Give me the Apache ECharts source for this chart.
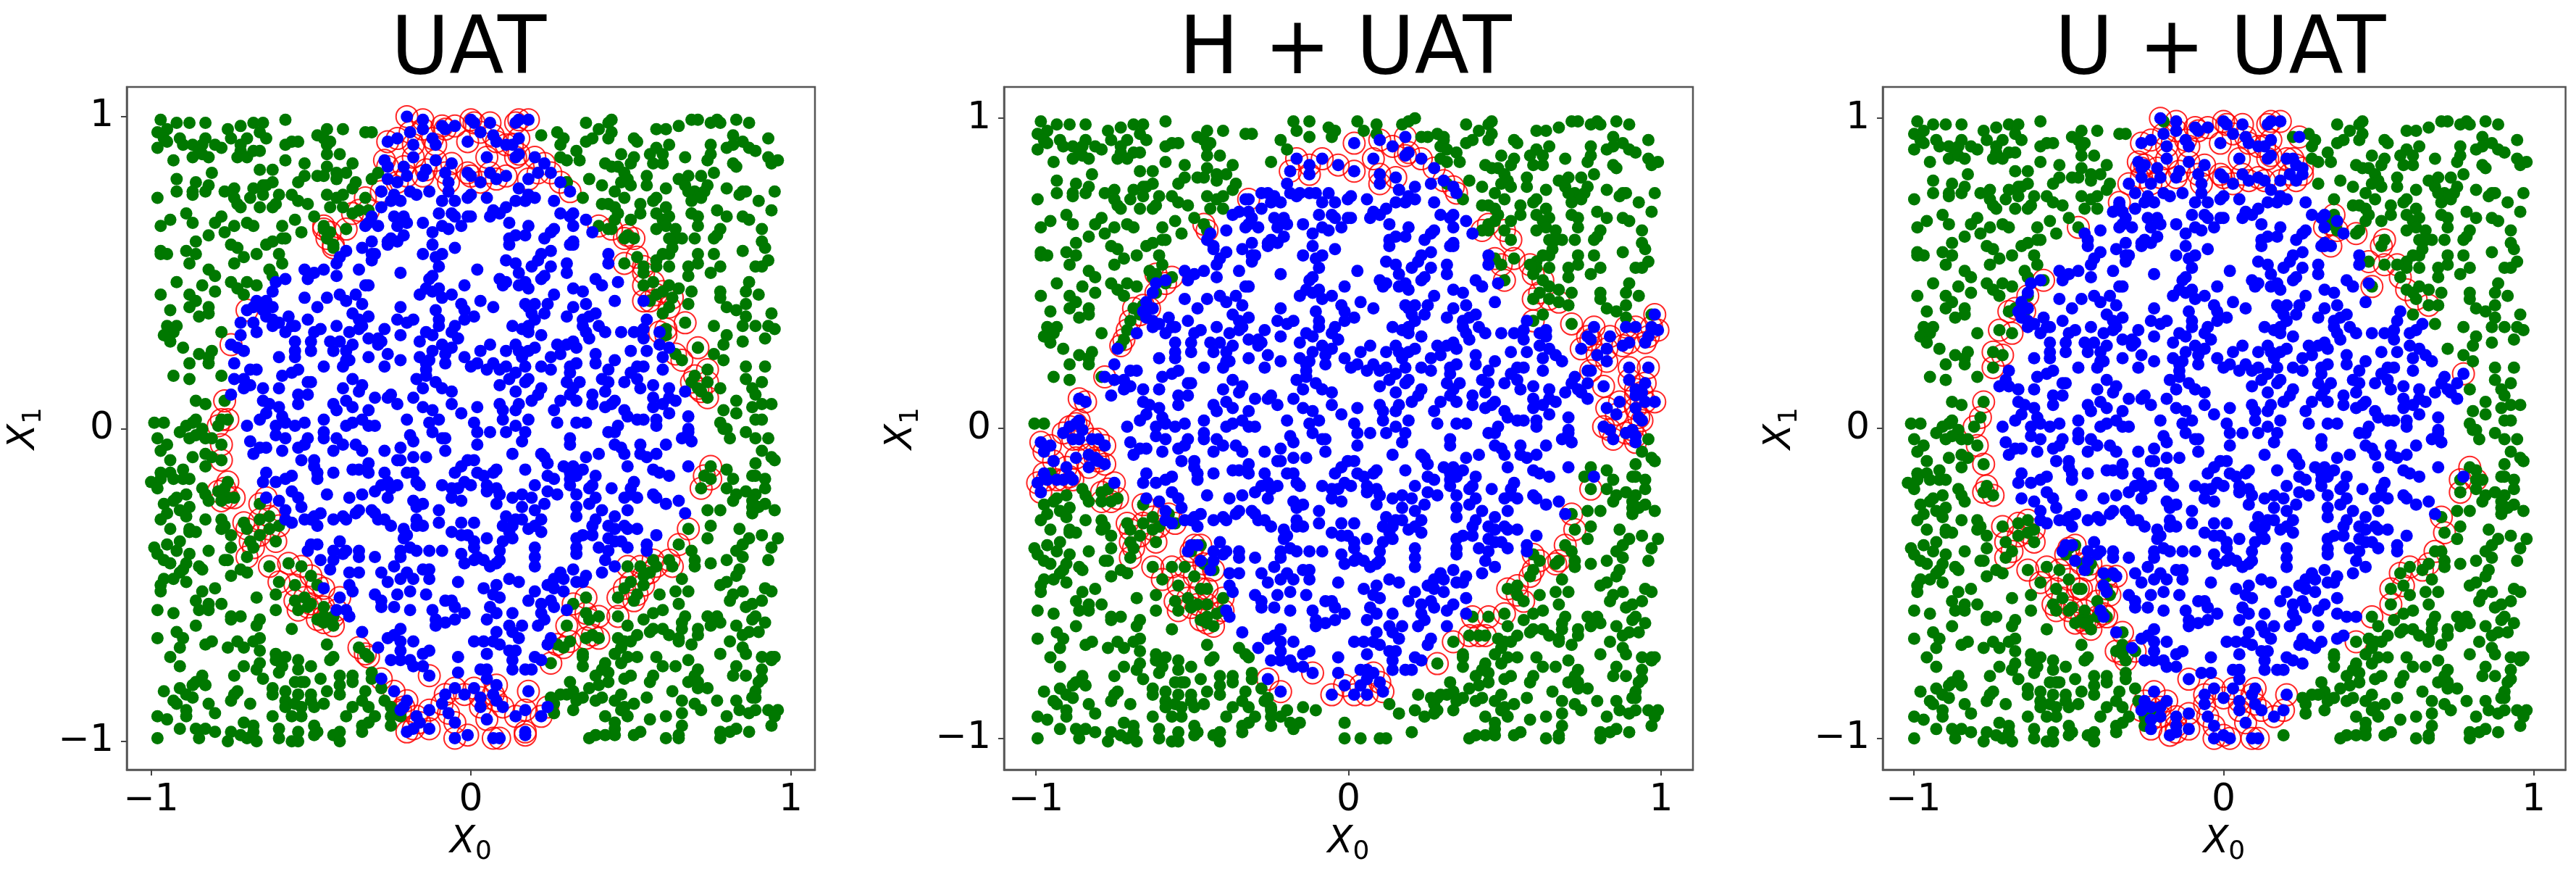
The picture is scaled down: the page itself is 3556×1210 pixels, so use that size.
<!DOCTYPE html>
<html>
<head>
<meta charset="utf-8">
<script src="https://cdn.jsdelivr.net/npm/echarts@6/dist/echarts.min.js"></script>
<style>
html, body {margin: 0; padding: 0; background: #fff;}
#main {width: 3556px; height: 1210px;}
</style>
</head>
<body>
<div id="main"></div>
<script>
let titles = ['UAT', 'H + UAT', 'U + UAT'];
let tickValues = [-1, 0, 1];

// points that keep their colour in all three panels
let greenAll = [
[-.97,.99],[-.92,.98],[-.88,.98],[-.83,.98],[-.95,.96],[-.98,.95],[-.96,.93],[-.95,.92],[-.98,.90],[-.91,.93],[-.90,.91],[-.87,.91],[-.83,.93],[-.84,.91],[-.85,.89],[-.87,.87],[-.84,.88],[-.82,.87],[-.93,.86],
[-.76,.96],[-.72,.97],[-.68,.98],[-.70,.93],[-.65,.98],[-.66,.95],[-.64,.93],[-.58,.99],[-.80,.91],[-.78,.90],[-.75,.93],[-.72,.91],[-.72,.89],[-.73,.87],[-.70,.87],[-.68,.89],[-.66,.89],
[-.58,.91],[-.56,.92],[-.54,.92],[-.48,.94],[-.46,.93],[-.44,.92],[-.45,.96],[-.40,.96],[-.33,.95],[-.31,.95],[-.45,.91],[-.45,.88],[-.41,.88],[-.58,.86],[-.52,.85],[-.66,.83],[-.62,.83],
[-.45,.84],[-.37,.85],[-.39,.82],[-.42,.82],[-.42,.80],[-.48,.81],[-.46,.81],[-.52,.81],[-.54,.79],[-.81,.82],[-.92,.80],[-.86,.79],[-.82,.78],[-.83,.76],[-.87,.76],[-.87,.75],[-.92,.76],[-.98,.74],
[-.77,.76],[-.74,.77],[-.74,.74],[-.73,.72],[-.72,.71],[-.69,.74],[-.68,.77],[-.65,.78],[-.65,.75],[-.62,.79],[-.64,.78],[-.60,.75],[-.56,.75],[-.54,.73],[-.51,.72],[-.66,.71],[-.62,.71],[-.61,.72],
[-.45,.75],[-.42,.74],[-.40,.75],[-.37,.77],[-.36,.79],[-.44,.71],[-.40,.71],[-.89,.69],[-.87,.66],[-.94,.67],[-.97,.65],[-.78,.68],[-.80,.66],[-.82,.62],[-.77,.63],[-.74,.65],[-.70,.66],[-.68,.65],[-.59,.65],[-.55,.67],[-.53,.63],[-.49,.68],
[-.86,.60],[-.97,.57],[-.97,.56],[-.95,.56],[-.89,.57],[-.86,.56],[-.88,.53],[-.75,.59],[-.73,.58],[-.71,.55],[-.74,.53],[-.67,.56],[-.64,.59],[-.62,.60],[-.59,.61],[-.58,.61],[-.60,.56],[-.59,.53],
[-.82,.51],[-.80,.49],[-.63,.51],[-.62,.49],[-.92,.47],[-.84,.46],[-.75,.47],[-.73,.45],[-.70,.47],[-.67,.46],[-.71,.43],[-.97,.43],[-.88,.43],[-.80,.44],[-.86,.41],[-.88,.39],[-.82,.39],[-.82,.37],[-.85,.36],[-.94,.38],
[-.92,.33],[-.95,.33],[-.93,.31],[-.96,.30],[-.94,.28],[-.78,.31],[-.90,.26],[-.85,.24],[-.81,.25],[-.82,.23],[-.82,.21],[-.88,.21],[-.93,.17],[-.88,.16],[-.78,.17],[-.99,.02],[-.96,.02],
[.22,.94],[.36,.98],[.44,.99],[.43,.98],[.44,.95],[.40,.96],[.38,.93],[.36,.92],[.43,.93],[.27,.95],[.29,.93],[.28,.91],[.28,.87],[.30,.86],[.33,.89],[.34,.86],
[.51,.93],[.52,.92],[.58,.96],[.61,.96],[.65,.97],[.69,.99],[.71,.99],[.75,.98],[.77,.99],[.78,.98],[.83,.99],[.87,.98],[.62,.91],[.58,.90],[.56,.88],[.57,.85],[.60,.85],[.60,.88],[.67,.87],[.47,.88],[.51,.87],[.50,.85],[.75,.91],[.75,.88],[.74,.86],[.80,.90],[.82,.94],[.82,.91],[.85,.92],[.87,.90],[.89,.89],[.93,.93],[.93,.87],[.94,.85],[.96,.86],[.82,.85],[.83,.84],
[.42,.85],[.44,.84],[.46,.84],[.48,.82],[.47,.79],[.49,.80],[.50,.78],[.55,.81],[.55,.78],[.37,.80],[.41,.78],[.45,.76],[.48,.74],[.35,.74],[.30,.79],
[.65,.80],[.67,.78],[.68,.81],[.72,.81],[.74,.78],[.76,.82],[.70,.76],[.68,.76],[.73,.76],[.69,.73],[.72,.74],[.61,.77],[.58,.74],[.57,.73],[.80,.77],[.85,.76],[.84,.75],[.86,.76],[.95,.76],[.90,.73],[.94,.70],
[.41,.72],[.43,.72],[.45,.71],[.46,.69],[.53,.72],[.53,.69],[.58,.69],[.61,.71],[.62,.68],[.50,.67],[.45,.67],[.43,.64],[.60,.67],[.61,.65],[.58,.64],[.69,.69],[.71,.68],[.71,.65],[.77,.70],[.80,.68],[.85,.68],[.87,.67],[.64,.64],[.66,.61],[.64,.61],[.62,.61],[.70,.61],[.78,.64],[.77,.62],[.76,.61],[.91,.64],[.91,.60],[.92,.58],
[.63,.58],[.62,.56],[.60,.56],[.58,.54],[.58,.52],[.62,.52],[.71,.56],[.76,.56],[.85,.57],[.93,.54],[.68,.52],[.71,.53],[.68,.49],[.75,.50],[.78,.52],[.89,.52],[.91,.52],
[.62,.46],[.65,.45],[.69,.44],[.87,.47],[.78,.44],[.78,.42],[.86,.44],[.90,.43],[.86,.40],[.68,.40],[.60,.37],[.80,.39],[.83,.38],[.86,.36],[.94,.37],
[-.83,-.21],[-.82,-.23],[-.84,-.19],[-.94,-.14],[-.89,-.21],[-.92,-.22],[-.93,-.23],[-.96,-.24],[-.88,-.25],
[-.91,-.26],[-.89,-.28],[-.95,-.27],[-.97,-.29],[-.94,-.32],[-.83,-.29],[-.78,-.29],[-.77,-.31],[-.78,-.32],[-.88,-.32],[-.88,-.33],[-.86,-.33],[-.75,-.34],[-.91,-.36],[-.95,-.37],[-.92,-.39],[-.99,-.38],[-.98,-.40],[-.82,-.39],[-.75,-.38],[-.88,-.40],[-.96,-.42],[-.94,-.43],[-.89,-.43],[-.90,-.45],[-.91,-.46],[-.77,-.42],[-.76,-.42],[-.85,-.44],[-.84,-.45],[-.72,-.45],[-.70,-.46],[-.75,-.47],[-.96,-.48],[-.93,-.48],[-.89,-.49],[-.97,-.50],[-.97,-.52],
[-.84,-.52],[-.80,-.51],[-.86,-.55],[-.82,-.56],[-.78,-.56],[-.85,-.58],[-.82,-.58],[-.98,-.58],[-.93,-.59],[-.75,-.60],[-.72,-.60],[-.75,-.61],[-.67,-.54],[-.61,-.53],[-.61,-.58],
[-.86,-.63],[-.66,-.61],[-.67,-.63],[-.56,-.64],[-.92,-.65],[-.90,-.67],[-.98,-.67],[-.81,-.68],[-.83,-.69],[-.73,-.68],[-.71,-.70],[-.76,-.70],[-.66,-.67],[-.68,-.68],[-.66,-.71],[-.91,-.70],[-.45,-.69],[-.94,-.73],[-.91,-.76],[-.61,-.72],[-.61,-.74],[-.58,-.73],[-.43,-.73],[-.44,-.74],[-.54,-.74],[-.54,-.77],[-.50,-.76],[-.71,-.76],[-.66,-.75],[-.67,-.77],[-.59,-.76],[-.60,-.78],[-.84,-.79],[-.74,-.79],[-.47,-.80],[-.65,-.80],[-.53,-.81],[-.52,-.81],[-.55,-.81],[-.41,-.79],[-.37,-.79],[-.37,-.81],[-.41,-.82],[-.86,-.81],[-.87,-.82],[-.83,-.82],[-.31,-.78],[-.31,-.80],
[-.96,-.84],[-.91,-.83],[-.89,-.85],[-.87,-.86],[-.62,-.83],[-.62,-.85],[-.73,-.84],[-.74,-.85],[-.75,-.87],[-.41,-.85],[-.45,-.84],[-.50,-.85],[-.58,-.84],[-.54,-.85],[-.33,-.84],[-.28,-.83],
[-.93,-.87],[-.92,-.88],[-.82,-.88],[-.69,-.88],[-.58,-.87],[-.58,-.89],[-.55,-.88],[-.53,-.89],[-.50,-.87],[-.49,-.89],[-.46,-.88],[-.32,-.89],[-.34,-.87],[-.27,-.87],[-.25,-.89],[-.37,-.89],
[-.89,-.90],[-.89,-.92],[-.80,-.91],[-.98,-.92],[-.95,-.93],[-.62,-.92],[-.56,-.92],[-.53,-.92],[-.39,-.92],[-.30,-.92],[-.25,-.92],[-.22,-.92],
[-.91,-.96],[-.71,-.94],[-.68,-.95],[-.49,-.95],[-.32,-.94],[-.34,-.95],[-.25,-.95],[-.60,-.96],[-.86,-.96],[-.83,-.96],[-.80,-.97],[-.75,-.97],[-.72,-.98],[-.70,-.99],[-.68,-.97],[-.48,-.97],[-.54,-.97],[-.41,-.97],[-.34,-.97],[-.98,-.99],[-.85,-.99],[-.60,-.99],[-.49,-.98],[-.43,-.98],[-.76,-1],[-.67,-1],[-.56,-1],[-.54,-1],[-.41,-1],
[.86,-.01],[.93,-.03],[.91,-.07],[.94,-.09],[.95,-.10],[.89,-.11],[.80,-.13],[.82,-.16],[.80,-.19],[.88,-.15],[.89,-.15],[.92,-.16],[.92,-.19],[.83,-.21],[.82,-.23],[.86,-.20],[.89,-.21],[.88,-.23],[.92,-.24],[.88,-.25],[.90,-.25],[.88,-.27],[.95,-.26],[.74,-.26],[.78,-.26],
[.75,-.31],[.74,-.35],[.84,-.32],[.87,-.35],[.91,-.34],[.96,-.35],[.85,-.37],[.94,-.38],[.83,-.39],[.85,-.41],[.69,-.39],[.70,-.42],[.70,-.44],[.75,-.43],[.80,-.42],[.93,-.42],[.84,-.45],[.83,-.47],
[.66,-.48],[.78,-.50],[.80,-.49],[.64,-.52],[.68,-.52],[.59,-.53],[.85,-.52],[.82,-.53],[.81,-.55],[.92,-.51],[.94,-.52],[.91,-.55],[.88,-.56],[.86,-.57],[.65,-.56],[.60,-.58],[.57,-.59],[.54,-.61],[.67,-.60],[.74,-.60],[.77,-.60],[.89,-.60],[.88,-.61],[.49,-.63],[.78,-.62],[.75,-.63],[.92,-.62],[.66,-.62],[.66,-.64],[.60,-.64],[.57,-.64],[.56,-.65],[.71,-.64],[.71,-.66],[.62,-.66],[.65,-.67],[.65,-.68],[.83,-.63],[.85,-.66],[.90,-.65],[.87,-.65],[.81,-.68],[.52,-.66],[.50,-.68],[.46,-.67],[.48,-.68],[.69,-.69],
[.47,-.70],[.85,-.70],[.45,-.72],[.86,-.72],[.78,-.72],[.58,-.73],[.49,-.73],[.52,-.73],[.91,-.73],[.94,-.73],[.95,-.73],[.94,-.74],[.35,-.72],[.35,-.73],[.68,-.74],[.47,-.75],[.60,-.76],[.64,-.76],[.35,-.76],[.42,-.75],[.83,-.76],[.41,-.77],[.43,-.78],[.71,-.77],[.91,-.77],[.82,-.79],[.86,-.79],[.39,-.79],[.50,-.79],[.48,-.80],[.57,-.79],[.70,-.79],[.91,-.80],[.43,-.81],[.40,-.82],[.31,-.81],[.56,-.81],[.68,-.81],[.71,-.81],[.90,-.81],[.71,-.83],[.74,-.83],[.63,-.84],[.37,-.83],[.32,-.84],[.89,-.84],[.30,-.85],[.28,-.85],[.25,-.86],[.35,-.86],[.41,-.86],[.89,-.86],[.88,-.86],[.55,-.86],[.47,-.85],[.39,-.87],[.33,-.87],[.66,-.87],[.70,-.88],[.77,-.87],[.83,-.87],[.45,-.87],[.51,-.88],[.26,-.88],[.48,-.89],[.32,-.90],[.47,-.90],[.84,-.90],[.72,-.90],[.66,-.91],[.89,-.90],[.87,-.91],[.93,-.90],[.96,-.90],[.26,-.91],[.42,-.92],[.49,-.92],[.56,-.93],[.61,-.92],[.80,-.92],[.95,-.92],[.94,-.95],[.45,-.94],[.45,-.96],[.66,-.95],[.83,-.96],[.87,-.97],[.45,-.98],[.42,-.98],[.39,-.98],[.53,-.97],[.51,-.98],[.65,-.98],[.78,-.97],[.81,-.97],[.37,-.99],[.61,-.99],[.65,-.99],[.78,-.99]
];

let blueAll = [
[-.28,.76],[-.24,.75],[-.19,.76],[-.17,.75],[-.13,.76],[-.07,.76],[-.01,.74],[-.28,.71],[-.25,.73],[-.22,.73],[-.09,.73],[-.05,.73],[-.31,.68],[-.32,.66],[-.33,.65],[-.29,.65],[-.24,.68],[-.21,.68],[-.20,.66],[-.23,.65],[-.15,.66],[-.10,.69],[-.06,.69],[-.05,.68],[-.09,.65],[-.07,.64],[-.03,.65],[-.01,.68],[-.12,.63],
[-.31,.60],[-.25,.61],[-.21,.62],[-.26,.60],[-.23,.60],[-.26,.59],[-.34,.58],[-.30,.56],[-.31,.56],[-.31,.54],[-.39,.57],[-.41,.55],[-.42,.53],[-.12,.59],[-.05,.58],[-.15,.56],[-.09,.56],[-.11,.55],[-.10,.52],[-.12,.49],[-.13,.48],
[-.52,.51],[-.49,.50],[-.51,.48],[-.46,.51],[-.42,.49],[-.35,.51],[-.22,.50],[-.58,.48],[-.61,.47],[-.62,.44],[-.33,.46],[-.32,.46],[-.02,.46],[-.14,.45],[-.16,.43],[-.12,.44],[-.10,.45],[-.06,.43],[-.09,.42],
[-.52,.42],[-.45,.42],[-.41,.43],[-.39,.41],[-.36,.43],[-.34,.40],[-.48,.39],[-.37,.37],[-.22,.39],[-.11,.38],[-.03,.40],[-.02,.38],[-.64,.41],[-.62,.39],[-.65,.38],[-.64,.36],[-.62,.35],[-.60,.34],[-.57,.36],[-.56,.33],[-.55,.33],[-.62,.33],[-.58,.31],[-.51,.35],[-.47,.32],[-.49,.31],[-.42,.33],[-.38,.31],[-.35,.35],[-.32,.36],[-.34,.33],[-.35,.32],
[-.23,.35],[-.20,.34],[-.18,.35],[-.10,.35],[-.10,.33],[-.27,.32],[-.22,.30],[-.02,.35],[-.05,.33],[-.06,.31],[-.14,.31],[-.12,.30],[-.16,.28],[-.04,.29],[-.32,.29],[-.29,.29],[-.28,.28],[-.29,.27],
[-.55,.28],[-.50,.28],[-.50,.25],[-.44,.28],[-.43,.25],[-.41,.28],[-.37,.27],[-.39,.25],[-.55,.25],[-.55,.23],[-.60,.23],[-.32,.23],[-.26,.24],[-.22,.22],[-.27,.20],[-.16,.23],[-.12,.25],[-.13,.22],[-.09,.27],[-.06,.26],[-.08,.24],[-.08,.21],[-.02,.23],[-.46,.20],[-.39,.22],[-.38,.22],[-.40,.20],[-.14,.21],[-.14,.19],
[-.54,.19],[-.56,.18],[-.59,.17],[-.65,.13],[-.60,.13],[-.51,.15],[-.50,.15],[-.37,.16],[-.34,.14],[-.35,.12],[-.40,.13],[-.17,.16],[-.14,.17],[-.11,.15],[-.15,.13],[-.09,.13],[-.06,.12],
[-.54,.11],[-.51,.11],[-.30,.10],[-.25,.11],[-.26,.10],[-.23,.08],[-.18,.10],[-.06,.08],[-.65,.09],[-.63,.08],[-.54,.08],[-.60,.07],[-.39,.09],[-.43,.08],[-.42,.06],[-.37,.07],[-.15,.07],[-.12,.06],
[-.03,.05],[-.64,.05],[-.59,.04],[-.66,.03],[-.46,.03],[-.52,.02],[-.32,.06],[-.34,.03],[-.20,.03],[-.10,.03],[-.13,.02],[-.61,.01],[-.58,.02],[-.55,.01],[-.39,.01],[-.37,.02],[-.30,.01],[-.32,.01],
[.26,.73],[.20,.74],[.15,.77],[.18,.75],[.17,.73],[.14,.73],[.11,.71],[.05,.74],[0,.75],[.07,.70],[.06,.68],[.09,.69],[0,.68],[.12,.66],
[.28,.69],[.32,.69],[.31,.68],[.32,.65],[.36,.67],[.38,.63],[.18,.65],[.17,.62],[.14,.62],[.12,.61],[.12,.59],[.23,.61],[.25,.63],[.26,.64],[.32,.60],[.31,.59],[.32,.59],
[.25,.57],[.22,.56],[.21,.54],[.19,.52],[.11,.54],[.14,.53],[.25,.52],[.30,.53],[.30,.50],[.43,.56],[.43,.53],[.02,.51],[.15,.50],[.09,.48],[.11,.47],[.10,.46],[.15,.46],[.17,.47],[.18,.45],[.23,.49],[.22,.48],[.32,.45],[.35,.44],[.39,.48],[.41,.46],[.46,.47],[.26,.43],
[.03,.41],[.07,.39],[.24,.40],[.17,.40],[.20,.40],[.18,.39],[.45,.41],[.32,.39],[.36,.40],[.23,.37],[.39,.37],[.19,.37],[.30,.36],[.35,.35],[.37,.36],[.01,.36],[.20,.35],
[.55,.35],[.13,.33],[.18,.33],[.16,.32],[.18,.31],[.35,.33],[.40,.33],[.36,.31],[.42,.31],[.54,.32],[.47,.31],[.51,.31],[.54,.29],[.37,.29],[.22,.30],
[.06,.27],[.03,.25],[.14,.27],[.11,.25],[.15,.25],[.20,.26],[.18,.25],[.16,.23],[.17,.20],[.27,.27],[.32,.28],[.30,.27],[.33,.26],[.28,.24],[.25,.23],[.39,.24],[.39,.21],[.50,.25],[.55,.25],[.59,.27],[.62,.26],[.60,.23],[.60,.19],
[.02,.21],[0,.20],[.07,.21],[.11,.20],[.09,.19],[.05,.19],[.14,.18],[.12,.16],[.09,.14],[.22,.20],[.25,.19],[.31,.20],[.33,.21],[.31,.18],[.45,.22],[.43,.19],[.52,.20],[.54,.20],[.50,.18],[.48,.15],[.52,.16],[.17,.15],[.18,.16],[.14,.12],[.22,.13],
[.41,.16],[.43,.15],[.30,.15],[.34,.15],[.32,.13],[.31,.11],[.42,.12],[.53,.13],[.57,.14],[.62,.13],[.67,.12],[.38,.11],[.21,.11],[.19,.09],[.28,.09],[.33,.09],[.38,.08],[.57,.10],[.60,.08],[.62,.10],[.64,.09],[.45,.09],[.44,.08],[.42,.07],[.48,.06],[.57,.07],
[.09,.08],[.02,.07],[.15,.08],[.14,.06],[.10,.06],[.26,.06],[.49,.04],[.52,.03],[.54,.03],[.62,.05],[.68,.04],[.58,.03],[.18,.03],[.14,.01],[.10,.03],[.01,.02],[.27,.02],[.36,.02],[.33,.02],[.46,.01],[.58,.01],[.68,0],
[-.69,-.04],[-.66,-.06],[-.64,-.06],[-.68,-.08],[-.61,-.02],[-.58,-.03],[-.59,-.07],[-.54,-.06],[-.51,-.03],[-.52,-.05],[-.46,-.01],[-.46,-.03],[-.42,-.03],[-.40,-.05],[-.43,-.07],[-.36,-.05],[-.34,-.07],[-.27,-.07],[-.22,-.06],[-.19,-.02],[-.18,-.04],[-.12,-.01],[-.09,-.03],[-.08,-.03],[-.08,-.07],
[-.53,-.10],[-.49,-.10],[-.49,-.12],[-.48,-.14],[-.48,-.16],[-.43,-.14],[-.37,-.13],[-.35,-.13],[-.32,-.11],[-.32,-.14],[-.23,-.10],[-.22,-.10],[-.18,-.09],[-.14,-.09],[-.27,-.14],[-.20,-.14],[-.18,-.14],[-.05,-.14],[-.03,-.12],[-.01,-.10],
[-.64,-.14],[-.65,-.17],[-.61,-.17],[-.58,-.16],[-.56,-.15],[-.17,-.17],[-.16,-.18],[-.28,-.18],[-.26,-.17],[-.23,-.18],[-.30,-.20],[-.25,-.19],[-.26,-.22],[-.09,-.18],[-.06,-.19],[-.04,-.19],[-.02,-.17],[-.06,-.22],[-.03,-.23],
[-.56,-.20],[-.54,-.22],[-.45,-.21],[-.38,-.22],[-.34,-.21],[-.64,-.22],[-.60,-.23],[-.53,-.25],[-.18,-.23],[-.17,-.25],[-.15,-.24],[-.31,-.26],[-.35,-.26],[-.58,-.26],[-.10,-.26],
[-.58,-.29],[-.56,-.30],[-.52,-.29],[-.49,-.28],[-.47,-.27],[-.50,-.29],[-.48,-.31],[-.43,-.29],[-.40,-.28],[-.39,-.29],[-.36,-.27],[-.30,-.27],[-.27,-.29],[-.29,-.29],[-.25,-.31],[-.21,-.32],[-.17,-.29],[-.17,-.31],[-.15,-.31],[-.10,-.30],[-.03,-.30],[-.06,-.33],[-.03,-.34],[-.01,-.34],
[-.21,-.35],[-.20,-.34],[-.41,-.36],[-.50,-.37],[-.48,-.37],[-.51,-.39],[-.43,-.39],[-.40,-.40],[-.39,-.39],[-.35,-.39],[-.35,-.41],[-.30,-.41],[-.19,-.38],[-.22,-.39],[-.17,-.39],[-.13,-.39],[-.09,-.39],[-.03,-.40],[-.22,-.41],[-.02,-.43],
[-.47,-.42],[-.43,-.42],[-.44,-.45],[-.24,-.44],[-.38,-.46],[-.35,-.46],[-.28,-.46],[-.15,-.45],[-.13,-.45],[-.20,-.46],[-.22,-.48],[-.18,-.48],[-.13,-.48],[-.04,-.49],[-.26,-.49],
[-.38,-.50],[-.37,-.52],[-.30,-.53],[-.19,-.52],[-.23,-.53],[-.14,-.53],[-.28,-.55],[-.08,-.55],[-.06,-.55],[-.24,-.57],[-.28,-.57],[-.05,-.57],[-.39,-.58],[-.19,-.58],[-.12,-.58],[-.38,-.60],[-.02,-.59],[-.11,-.61],[-.05,-.61],[-.11,-.63],[-.08,-.62],
[-.22,-.64],[-.34,-.65],[-.26,-.67],[-.24,-.66],[-.22,-.68],[-.18,-.68],[-.22,-.71],[-.29,-.70],[-.13,-.71],[-.15,-.72],[-.25,-.74],[-.22,-.74],[-.19,-.74],[-.04,-.73],[-.18,-.76],[-.15,-.76],[-.04,-.78],
[.02,-.01],[.06,-.01],[.11,-.01],[.17,-.01],[.16,-.04],[.02,-.05],[.31,-.03],[.31,-.05],[.43,-.01],[.45,-.01],[.45,-.05],[.47,-.06],[.53,-.05],[.61,-.05],[.66,-.03],[.68,-.01],[.69,-.04],[.13,-.08],[.22,-.08],[.23,-.09],[.24,-.11],[.36,-.09],[.40,-.08],[.48,-.08],[.49,-.12],[.53,-.08],[.55,-.09],[.58,-.08],[.01,-.10],
[.08,-.13],[.07,-.14],[.17,-.13],[.02,-.14],[.04,-.15],[.24,-.15],[.26,-.16],[.29,-.12],[.32,-.12],[.31,-.14],[.35,-.13],[.33,-.15],[.39,-.15],[.31,-.16],[.31,-.18],[.57,-.13],[.59,-.14],[.62,-.15],[.68,-.12],
[0,-.18],[.05,-.18],[.20,-.18],[.08,-.19],[.38,-.18],[.37,-.19],[.44,-.19],[.51,-.17],[.50,-.19],[.05,-.20],[.09,-.21],[.24,-.20],[.27,-.21],[.33,-.21],[.13,-.22],[.16,-.21],[.19,-.22],[.57,-.21],[.58,-.22],[.48,-.22],[.52,-.22],[.39,-.22],[.50,-.21],
[.08,-.24],[.16,-.25],[.20,-.26],[.23,-.24],[.37,-.24],[.33,-.25],[.41,-.26],[.49,-.26],[.61,-.24],[.65,-.23],[.33,-.28],[.45,-.28],[.67,-.27],
[.11,-.28],[.14,-.29],[.16,-.29],[.22,-.29],[.01,-.30],[.10,-.31],[.13,-.31],[.20,-.31],[.18,-.32],[.39,-.29],[.38,-.31],[.43,-.31],[.45,-.32],[.48,-.31],[.49,-.32],[.52,-.32],
[.22,-.33],[.12,-.33],[.35,-.34],[.33,-.35],[.38,-.34],[.58,-.34],[.13,-.35],[.05,-.35],[.10,-.36],[.43,-.35],[.45,-.36],[.47,-.36],[.49,-.38],[.55,-.37],[.01,-.36],[.40,-.38],[.33,-.38],[.33,-.40],[.55,-.39],[.01,-.38],[.09,-.39],[.20,-.38],[.43,-.39],
[.02,-.41],[.01,-.42],[.09,-.42],[.08,-.43],[.04,-.42],[.06,-.44],[.20,-.41],[.20,-.44],[.42,-.42],[.41,-.46],[.45,-.44],[.32,-.45],
[.12,-.48],[.15,-.49],[.28,-.46],[.26,-.48],[.29,-.48],[.36,-.47],[.33,-.49],[.35,-.49],[.08,-.50],[.04,-.51],[.24,-.50],[.26,-.51],[.29,-.52],[.20,-.52],[.07,-.53],[.09,-.54],[.18,-.55],[.22,-.56],[.25,-.55],[.26,-.57],[.06,-.57],[.30,-.58],[.13,-.59],[.08,-.59],[.05,-.61],[.22,-.59],[.21,-.63],[.23,-.61],[.16,-.63],[.12,-.63],[.13,-.65],[.08,-.65],[.25,-.67],[.15,-.67],[.01,-.68],[.04,-.68],[.07,-.68],[.09,-.69],[.24,-.69],[.12,-.71],[.14,-.71],[.05,-.72],[.13,-.74],[.20,-.73],[.22,-.74],[.13,-.77],[.17,-.77],[.19,-.77],[.03,-.77],[.05,-.77],[.05,-.80]
];

// green in UAT and U + UAT, blue in H + UAT
let leftEdgeGreen = [
[-.86,.09],[-.83,.08],[-.86,.03],[-.87,.02],[-.89,.01],[-.84,0],[-.91,-.01],[-.88,-.03],[-.86,-.02],[-.83,-.03],[-.81,-.03],[-.98,-.03],[-.95,-.05],[-.97,-.07],[-.94,-.10],[-.87,-.09],[-.83,-.08],[-.81,-.09],[-.83,-.12],[-.97,-.14],[-.90,-.13],[-1,-.17],[-.97,-.16],[-.93,-.16],[-.90,-.16],[-.88,-.16],[-.98,-.19]
];
let rightEdgeGreen = [
[.76,.33],[.85,.33],[.89,.33],[.93,.33],[.95,.32],[.80,.30],[.92,.29],[.85,.28],[.79,.27],[.76,.24],[.79,.22],[.86,.20],[.92,.20],[.86,.16],[.91,.15],[.78,.13],[.88,.13],[.89,.11],[.83,.09],[.91,.08],[.94,.08],[.88,.07],[.79,.06],[.83,.05],[.89,.03],[.91,.03],[.78,.02],[.80,0],[.81,-.03],[.79,0],[.89,-.03]
];
// blue in UAT and H + UAT
let leftInnerBlue = [
[-.73,.26],[-.74,.21],[-.69,.19],[-.67,.19],[-.74,.16],[-.71,.16],[-.69,.14],[-.71,.13],[-.75,.11],[-.70,.01]
];
// circled blue cap at the top of UAT and U + UAT
let topCapBlue = [
[-.20,1],[-.15,.99],[-.09,.97],[-.08,.96],[-.05,.97],[0,.99],[-.19,.95],[-.15,.96],[-.12,.93],[-.11,.91],[-.26,.92],[-.23,.93],[-.18,.91],[-.01,.92],[-.27,.86],[-.26,.84],[-.18,.87],[-.11,.86],[-.06,.85],[-.21,.84],[-.14,.83],[-.15,.81],[-.08,.82],[-.01,.82],[-.20,.81],[-.23,.79],[-.07,.79],
[.01,.98],[.03,.95],[.06,.98],[.07,.94],[.08,.92],[.14,.98],[.15,.99],[.18,.99],[.15,.93],[.11,.91],[.13,.91],[.15,.88],[.14,.87],[.05,.87],[.20,.87],[.23,.85],[.25,.82],[.21,.82],[.18,.80],[.06,.82],[.08,.80],[.11,.81],[.03,.79],[0,.81]
];

// UAT panel
let uatBlue = [[-.68,.39],[-.67,.41],[-.72,.34],[-.72,.30],[-.68,.34],[-.67,.31],[-.71,.25],[-.26,.80]];
let uatGreen = [[.30,.79],[-.29,.82],[-.31,.80],[.71,.26]];
let uatRingBlue = [
[.28,.79],[.31,.76],
[-.70,.38],[-.75,.27],[-.28,.76],[.54,.41],[.59,.31],[-.64,-.22],[-.46,-.51],[-.41,-.54],[-.42,-.58],[-.13,-.79],[-.28,-.80],[-.24,-.84],[-.20,-.87],[-.21,-.89],[-.22,-.90],[-.13,-.90],[-.17,-.92],[-.16,-.94],[-.13,-.96],[-.18,-.96],[-.20,-.97],[-.08,-.85],[-.05,-.83],[-.02,-.85],[-.09,-.88],[-.07,-.91],[-.05,-.94],[-.05,-.99],[-.01,-.98],
[.18,-.84],[.01,-.83],[.08,-.82],[.07,-.85],[.03,-.86],[.08,-.87],[.10,-.89],[.03,-.89],[.17,-.90],[.14,-.92],[.24,-.89],[.22,-.92],[.05,-.93],[.17,-.97],[.17,-.98],[.07,-.99],[.09,-.99]
];
let uatRingGreen = [
[.40,.65],[.44,.64],[.48,.61],[.49,.62],[.51,.61],[.48,.53],[.52,.55],[.54,.52],[.54,.50],[.54,.46],[.57,.47],[.56,.41],[.58,.43],[.60,.44],[.63,.42],[.62,.39],[.67,.34],[.61,.32],[.61,.30],[.71,.26],[.64,.24],[.66,.22],[.70,.17],[.74,.19],[.69,.15],[.71,.13],[.74,.15],[.72,.12],[.74,.10],
[-.77,.09],[-.76,.03],[-.78,.03],[-.79,.01],[-.33,.74],[-.37,.69],[-.35,.70],[-.32,.70],[-.39,.64],[-.46,.65],[-.44,.63],[-.45,.61],[-.43,.59],[-.43,.58],[-.46,.64],
[-.78,-.05],[-.78,-.10],[-.76,-.17],[-.77,-.19],[-.79,-.20],[-.74,-.22],[-.76,-.22],[-.78,-.23],[-.66,-.24],[-.63,-.28],[-.66,-.29],[-.71,-.30],[-.70,-.32],[-.60,-.31],[-.63,-.32],[-.66,-.34],[-.69,-.36],[-.61,-.36],[-.68,-.38],[-.70,-.41],
[-.63,-.44],[-.57,-.43],[-.53,-.44],[-.50,-.47],[-.60,-.49],[-.55,-.50],[-.48,-.50],[-.52,-.54],[-.55,-.55],[-.54,-.58],[-.50,-.56],[-.51,-.57],[-.46,-.57],[-.43,-.60],[-.48,-.61],[-.46,-.60],[-.46,-.62],[-.43,-.63],[-.35,-.70],[-.33,-.72],[-.32,-.73],
[.75,-.12],[.73,-.15],[.75,-.16],[.72,-.19],[.68,-.32],[.65,-.37],[.62,-.42],[.63,-.44],[.57,-.42],[.58,-.44],[.56,-.46],[.53,-.44],[.54,-.47],[.49,-.44],[.54,-.50],[.50,-.49],[.48,-.51],[.46,-.54],[.52,-.53],[.51,-.55],[.46,-.60],[.36,-.54],[.32,-.56],[.36,-.59],[.40,-.60],[.37,-.61],[.30,-.63],[.31,-.68],[.27,-.69],[.29,-.70],[.36,-.67],[.38,-.66],[.40,-.67],[.25,-.75]
];

// H + UAT panel
let hBlue = [
[-.26,.76],[-.20,.79],[-.16,.76],[-.11,.76],[.20,.78],[.15,.77],[.25,.79],[-.37,.69],[-.35,.70],[-.32,.70],[-.33,.74],[-.39,.64],[-.44,.63],[-.45,.61],[-.43,.59],[-.43,.58],[-.67,.31],
[.69,.15],[.70,.17],[.71,.13],[.72,.12],[.74,.10],[.74,.15],[.74,.19],[.64,.24],[.66,.22],[.61,.32],[.61,.30],[.59,.31],[.76,-.15],[.36,-.54],[.32,-.56],[.30,-.63],[.36,-.59]
];
let hGreen = [
[-.25,.86],[-.22,.93],[-.18,.99],[-.17,.96],[-.13,.99],[-.13,.94],[-.07,.97],[-.06,.94],[-.05,.96],[.02,.99],[.04,.96],[.08,.98],[.08,.95],[.16,.98],[.18,.99],[.20,1],[.24,.94],[.29,.94],[.30,.90],[-.20,.90],
[-.11,-.90],[-.16,-.94],[-.18,-.96],[-.02,-.94],[-.02,-.99],[.03,-.99],[.09,-.99],[.11,-.99],[.12,-.88],[.19,-.97],[.15,-.91],[.20,-.90],[.27,-.86],[.27,-.90],[.23,-.92],[.21,-.85],[-.15,-.89],[-.19,-.94],[-.25,-.90],[-.26,-.86],[-.20,-.90],
[-.35,-.70],[-.33,-.72],[-.32,-.73],[.73,-.15],[.75,-.12]
];
let hRingBlue = [
[.01,.92],[.09,.93],[.13,.91],[.17,.94],[.17,.88],[.18,.89],[.07,.87],[.22,.87],[.26,.84],[.29,.80],[.32,.78],[.33,.76],[.01,.83],[.09,.82],[.14,.81],[.09,.79],[-.04,.85],[-.09,.87],[-.13,.85],[-.13,.82],[-.17,.87],[-.19,.83],[-.32,.74],[-.77,.17],
[-.85,.10],[-.83,.09],[-.85,.03],[-.86,.02],[-.88,.01],[-.90,-.01],[-.84,0],[-.87,-.03],[-.85,-.03],[-.81,-.03],[-.79,-.03],[-.77,-.05],[-.97,-.04],[-.94,-.05],[-.96,-.07],[-.86,-.09],[-.82,-.08],[-.80,-.09],[-.93,-.10],[-.77,-.11],[-.79,-.10],[-.82,-.12],[-.89,-.12],[-.96,-.14],[-.95,-.16],[-.92,-.16],[-.87,-.16],[-.90,-.16],[-.98,-.17],[-.97,-.20],[-.88,-.15],[-.74,-.17],
[.76,.33],[.74,.30],[.75,.29],[.72,.26],[.81,.30],[.80,.26],[.77,.24],[.80,.22],[.86,.33],[.89,.33],[.95,.37],[.94,.33],[.96,.32],[.93,.30],[.92,.28],[.87,.28],[.85,.27],[.87,.20],[.93,.20],[.75,.19],[.79,.14],[.87,.16],[.92,.15],[.89,.13],[.91,.12],[.89,.11],[.95,.09],[.92,.09],[.89,.07],[.84,.09],[.80,.07],[.83,.05],[.90,.04],[.91,.03],[.79,.01],[.81,0],[.82,-.03],[.86,-.01],[.88,0],[.89,-.02],[.89,-.04],
[-.26,-.80],[-.22,-.84],[-.12,-.78],[-.06,-.85],[-.02,-.82],[.01,-.85],[.03,-.82],[.05,-.85],[.09,-.81],[.10,-.84],[.07,-.78]
];
let hRingGreen = [
[-.46,.66],[-.45,.64],[-.56,.49],[-.61,.50],[-.61,.44],[-.65,.40],[-.68,.39],[-.63,.39],[-.70,.32],[-.71,.29],[-.72,.27],[-.58,.47],[-.66,.37],[-.69,.35],
[-.76,-.19],[-.73,-.22],[-.78,-.20],[-.75,-.23],[-.78,-.23],[-.65,-.24],[-.62,-.28],[-.65,-.30],[-.70,-.30],[-.69,-.32],[-.57,-.27],[-.55,-.30],[-.60,-.31],[-.62,-.32],[-.66,-.34],[-.69,-.36],[-.61,-.36],[-.68,-.38],[-.69,-.41],
[-.49,-.37],[-.47,-.37],[-.50,-.39],[-.46,-.43],[-.43,-.45],[-.62,-.44],[-.56,-.44],[-.52,-.44],[-.49,-.47],[-.59,-.48],[-.54,-.50],[-.47,-.51],[-.45,-.51],[-.51,-.54],[-.40,-.54],[-.55,-.55],[-.54,-.58],[-.48,-.56],[-.50,-.57],[-.45,-.56],[-.40,-.58],[-.42,-.59],[-.47,-.61],[-.45,-.60],[-.43,-.63],[-.45,-.62],
[.41,.64],[.43,.66],[.48,.64],[.50,.61],[.45,.55],[.47,.53],[.51,.55],[.56,.53],[.57,.50],[.48,.48],[.57,.42],[.59,.44],[.62,.42],[.65,.41],[.57,.35],[.69,.34],[.60,.48],
[.75,-.19],[.69,-.27],[.70,-.32],[.67,-.37],[.65,-.42],[.64,-.43],[.57,-.40],[.59,-.42],[.57,-.45],[.56,-.47],[.52,-.50],[.49,-.51],[.52,-.53],[.54,-.55],[.48,-.59],[.43,-.60],[.38,-.60],[.40,-.66],[.37,-.66],[.42,-.66],[.32,-.68],[.27,-.75]
];

// U + UAT panel
let uBlue = [
[-.71,.14],[-.68,.19],[-.68,.14],[-.69,.16],[-.70,.01],[-.43,.61],[-.44,.63],[-.43,.59],[-.39,.64],[-.33,.72],[-.35,.70],[-.32,.70],
[.69,.15],[.70,.17],[.71,.13],[.72,.12],[.74,.10],[.74,.15],[.64,.24],[.66,.22],[.61,.32],[.59,.31],[.56,.38],[.63,.34],[.76,-.15],
[.36,-.54],[.32,-.56],[.36,-.59],[.30,-.63],[.31,-.68],[.27,-.69],[.29,-.70],[.36,-.67],[.38,-.66],[.25,-.75],[.39,-.60],[.42,-.60],[-.07,-.78]
];
let uGreen = [[-.19,.99],[.19,-.98],[.71,.26],[.67,.34],[.60,.44],[-.32,-.69]];
let uRingBlue = [
[.24,.94],[.22,.87],[.25,.84],[.23,.80],[.13,.80],[-.25,.85],[-.26,.81],[-.30,.79],[-.33,.73],
[.34,.59],[.76,.18],[-.34,-.47],[-.11,-.80],
[-.22,-.84],[-.25,-.87],[-.26,-.90],[-.23,-.89],[-.18,-.87],[-.20,-.89],[-.20,-.92],[-.23,-.93],[-.23,-.96],[-.15,-.92],[-.11,-.91],[-.15,-.95],[-.11,-.96],[-.17,-.98],[-.15,-.97],
[-.03,-.83],[.03,-.83],[-.06,-.85],[0,-.86],[.05,-.87],[.10,-.83],[.09,-.85],[.10,-.88],[.12,-.90],[.05,-.90],[-.06,-.88],[-.05,-.92],[.16,-.92],[.07,-.94],[-.03,-.95],[.19,-.90],[0,-.98],[.02,-.99],[-.03,-.99],[.09,-.99],[.11,-.99],[.20,-.85]
];
let uRingGreen = [
[-.46,.65],[-.57,.48],[-.62,.43],[-.66,.39],[-.63,.38],[-.68,.38],[-.71,.32],[-.67,.31],[-.73,.25],[-.70,.24],[-.73,.20],[-.76,.09],[-.77,.04],[-.79,.01],[-.78,-.05],[-.76,-.11],[-.75,-.18],[-.76,-.20],[-.73,-.21],
[-.70,-.31],[-.65,-.30],[-.62,-.29],[-.60,-.32],[-.62,-.33],[-.65,-.34],[-.69,-.36],[-.60,-.36],[-.67,-.39],[-.69,-.41],
[-.49,-.38],[-.47,-.37],[-.50,-.40],[-.62,-.45],[-.56,-.44],[-.52,-.45],[-.45,-.43],[-.42,-.43],[-.43,-.45],[-.49,-.48],[-.58,-.49],[-.53,-.51],[-.46,-.51],[-.45,-.51],[-.37,-.47],[-.37,-.51],[-.36,-.53],[-.51,-.54],[-.40,-.55],[-.54,-.56],[-.53,-.58],[-.49,-.58],[-.48,-.57],[-.44,-.58],[-.47,-.62],[-.45,-.61],[-.43,-.61],[-.40,-.60],[-.38,-.59],[-.37,-.60],[-.42,-.64],[-.44,-.62],
[-.32,-.65],[-.34,-.71],[-.32,-.72],[-.31,-.74],[-.28,-.71],
[.34,.66],[.35,.69],[.36,.64],[.32,.65],[.42,.63],[.51,.61],[.50,.59],[.46,.54],[.51,.53],[.55,.53],[.47,.46],[.56,.49],[.58,.45],[.61,.42],[.65,.40],
[.78,-.12],[.75,-.16],[.80,-.16],[.75,-.20],[.69,-.28],[.70,-.33],[.67,-.39],[.65,-.43],[.63,-.45],[.59,-.44],[.56,-.46],[.57,-.50],[.53,-.51],[.53,-.56],[.47,-.60],[.42,-.68]
];

let panels = [
    {
        title: titles[0], titleX: 642, left: 175, width: 950,
        xRange: [-1.076, 1.076], yRange: [-1.091, 1.095], xFit: [1, 0], yFit: [1, 0],
        green: [...greenAll, ...leftEdgeGreen, ...rightEdgeGreen, ...uatGreen],
        blue: [...blueAll, ...leftInnerBlue, ...uatBlue],
        ringGreen: uatRingGreen, ringBlue: [...topCapBlue, ...uatRingBlue]
    },
    {
        title: titles[1], titleX: 1852, left: 1386, width: 951,
        xRange: [-1.102, 1.102], yRange: [-1.101, 1.101], xFit: [1.023, .008], yFit: [1.005, -.005],
        green: [...greenAll, ...hGreen],
        blue: [...blueAll, ...leftInnerBlue, ...hBlue],
        ringGreen: hRingGreen, ringBlue: hRingBlue
    },
    {
        title: titles[2], titleX: 3060, left: 2599, width: 942.6,
        xRange: [-1.099, 1.103], yRange: [-1.101, 1.101], xFit: [1.018, 0], yFit: [1.005, -.005],
        green: [...greenAll, ...leftEdgeGreen, ...rightEdgeGreen, ...uGreen],
        blue: [...blueAll, ...uBlue],
        ringGreen: uRingGreen, ringBlue: [...topCapBlue, ...uRingBlue]
    }
];

// the three panels were saved at slightly different scales
function fit(points, p) {
    return points.map(d => [d[0] * p.xFit[0] + p.xFit[1], d[1] * p.yFit[0] + p.yFit[1]]);
}

let fontName = 'DejaVu Sans';
let nameRich = {
    a: {fontFamily: fontName, fontStyle: 'italic', fontSize: 51, color: '#000'},
    b: {fontFamily: fontName, fontSize: 36, color: '#000', padding: [26, 0, 0, 0]}
};

function tickLabel(v) {
    return String(v).replace('-', '\u2212');
}

let option = {
    animation: false,
    backgroundColor: '#fff',
    title: [],
    grid: [],
    xAxis: [],
    yAxis: [],
    series: []
};

panels.forEach((p, i) => {
    option.title.push({
        text: p.title, left: p.titleX, top: 12, textAlign: 'center',
        textStyle: {fontFamily: fontName, fontSize: 110, fontWeight: 'normal', color: '#000'}
    });
    option.grid.push({
        left: p.left, top: 120, width: p.width, height: 942,
        show: true, borderColor: '#555', borderWidth: 2.5, backgroundColor: '#fff'
    });
    let axisBase = {
        type: 'value',
        splitLine: {show: false},
        axisLine: {show: true, onZero: false, lineStyle: {color: '#555', width: 2.5}},
        axisTick: {show: true, length: 8, customValues: tickValues, lineStyle: {color: '#444', width: 2}},
        nameLocation: 'middle',
        nameTextStyle: {rich: nameRich}
    };
    option.xAxis.push({
        ...axisBase, gridIndex: i, min: p.xRange[0], max: p.xRange[1],
        axisLabel: {customValues: tickValues, formatter: tickLabel, margin: 16, fontFamily: fontName, fontSize: 52, color: '#000'},
        name: '{a|X}{b|0}', nameGap: 70
    });
    option.yAxis.push({
        ...axisBase, gridIndex: i, min: p.yRange[0], max: p.yRange[1],
        axisLabel: {customValues: tickValues, formatter: tickLabel, margin: 18, fontFamily: fontName, fontSize: 52, color: '#000'},
        name: '{a|X}{b|1}', nameGap: 110
    });
    let rings = fit([...p.ringGreen, ...p.ringBlue], p);
    option.series.push({
        type: 'scatter', xAxisIndex: i, yAxisIndex: i, silent: true, z: 2,
        symbolSize: 30, data: rings,
        itemStyle: {color: 'rgba(255,255,255,0)', borderColor: '#ff0000', borderWidth: 2, opacity: .85}
    });
    option.series.push({
        type: 'scatter', xAxisIndex: i, yAxisIndex: i, silent: true, z: 3,
        symbolSize: 17, data: fit([...p.green, ...p.ringGreen], p),
        itemStyle: {color: '#007800', opacity: 1}
    });
    option.series.push({
        type: 'scatter', xAxisIndex: i, yAxisIndex: i, silent: true, z: 4,
        symbolSize: 17, data: fit([...p.blue, ...p.ringBlue], p),
        itemStyle: {color: '#0000ff', opacity: 1}
    });
});

echarts.init(document.getElementById('main'), null, {renderer: 'canvas'}).setOption(option);
</script>
</body>
</html>
